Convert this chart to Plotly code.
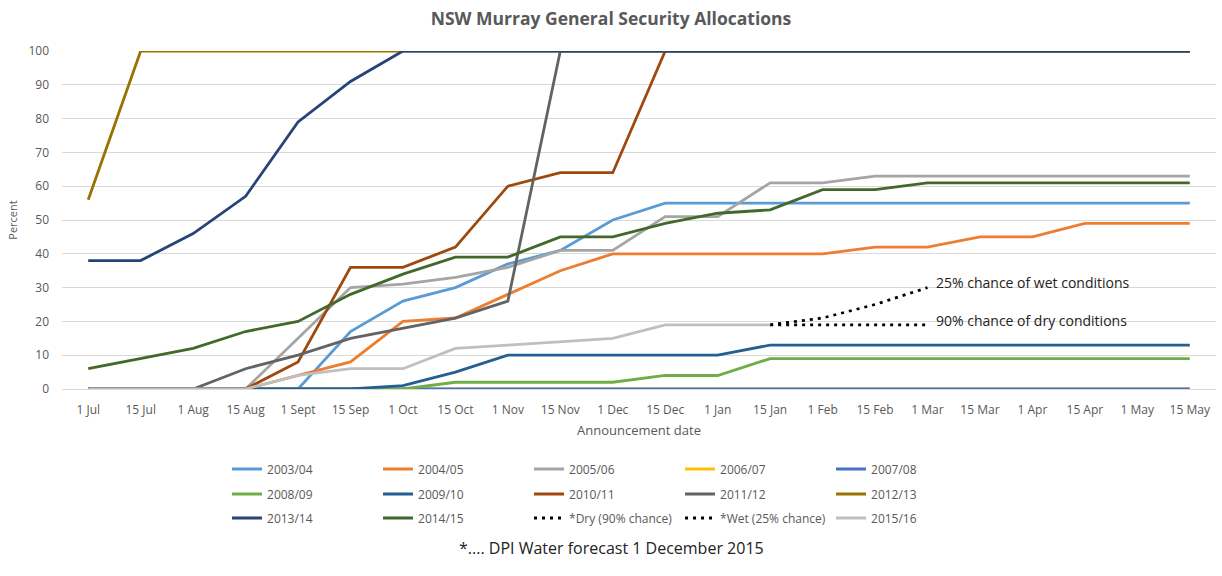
import plotly.graph_objects as go

dates = ["1 Jul", "15 Jul", "1 Aug", "15 Aug", "1 Sept", "15 Sep", "1 Oct", "15 Oct",
         "1 Nov", "15 Nov", "1 Dec", "15 Dec", "1 Jan", "15 Jan", "1 Feb", "15 Feb",
         "1 Mar", "15 Mar", "1 Apr", "15 Apr", "1 May", "15 May"]

y2003 = [0, 0, 0, 0, 0, 17, 26, 30, 37, 41, 50, 55, 55, 55, 55, 55, 55, 55, 55, 55, 55, 55]
y2004 = [0, 0, 0, 0, 4, 8, 20, 21, 28, 35, 40, 40, 40, 40, 40, 42, 42, 45, 45, 49, 49, 49]
y2005 = [0, 0, 0, 0, 15, 30, 31, 33, 36, 41, 41, 51, 51, 61, 61, 63, 63, 63, 63, 63, 63, 63]
y2006 = [0] * 22
y2007 = [0] * 22
y2008 = [0, 0, 0, 0, 0, 0, 0, 2, 2, 2, 2, 4, 4, 9, 9, 9, 9, 9, 9, 9, 9, 9]
y2009 = [0, 0, 0, 0, 0, 0, 1, 5, 10, 10, 10, 10, 10, 13, 13, 13, 13, 13, 13, 13, 13, 13]
y2010 = [0, 0, 0, 0, 8, 36, 36, 42, 60, 64, 64, 100, 100, 100, 100, 100, 100, 100, 100, 100, 100, 100]
y2011 = [0, 0, 0, 6, 10, 15, 18, 21, 26, 100, 100, 100, 100, 100, 100, 100, 100, 100, 100, 100, 100, 100]
y2012 = [56, 100, 100, 100, 100, 100, 100, 100, 100, 100, 100, 100, 100, 100, 100, 100, 100, 100, 100, 100, 100, 100]
y2013 = [38, 38, 46, 57, 79, 91, 100, 100, 100, 100, 100, 100, 100, 100, 100, 100, 100, 100, 100, 100, 100, 100]
y2014 = [6, 9, 12, 17, 20, 28, 34, 39, 39, 45, 45, 49, 52, 53, 59, 59, 61, 61, 61, 61, 61, 61]
dry_dates = ["15 Jan", "1 Feb", "15 Feb", "1 Mar"]
y_dry = [19, 19, 19, 19]
wet_dates = ["15 Jan", "1 Feb", "15 Feb", "1 Mar"]
y_wet = [19, 21, 25, 30]
dates_2015 = dates[:14]
y2015 = [0, 0, 0, 0, 4, 6, 6, 12, 13, 14, 15, 19, 19, 19]

series = [
    ("2003/04", dates, y2003, "#5B9BD5", None, "legend"),
    ("2004/05", dates, y2004, "#ED7D31", None, "legend"),
    ("2005/06", dates, y2005, "#A5A5A5", None, "legend"),
    ("2006/07", dates, y2006, "#FFC000", None, "legend"),
    ("2007/08", dates, y2007, "#4472C4", None, "legend"),
    ("2008/09", dates, y2008, "#70AD47", None, "legend2"),
    ("2009/10", dates, y2009, "#255E91", None, "legend2"),
    ("2010/11", dates, y2010, "#9E480E", None, "legend2"),
    ("2011/12", dates, y2011, "#636363", None, "legend2"),
    ("2012/13", dates, y2012, "#997300", None, "legend2"),
    ("2013/14", dates, y2013, "#264478", None, "legend3"),
    ("2014/15", dates, y2014, "#43682B", None, "legend3"),
    ("*Dry (90% chance)", dry_dates, y_dry, "#000000", "3px,5px", "legend3"),
    ("*Wet (25% chance)", wet_dates, y_wet, "#000000", "3px,5px", "legend3"),
    ("2015/16", dates_2015, y2015, "#BFBFBF", None, "legend3"),
]

fig = go.Figure()
for name, xs, ys, col, dash, lg in series:
    fig.add_trace(go.Scatter(
        x=xs, y=ys, name=name, mode="lines", legend=lg,
        line=dict(color=col, width=2.8, dash=dash if dash else "solid"),
    ))

txt = "#595959"
font = "Open Sans"
leg_common = dict(orientation="h", entrywidth=106, entrywidthmode="pixels",
                  xanchor="left", yanchor="middle", x=0.143,
                  font=dict(family=font, size=12, color=txt),
                  bgcolor="rgba(0,0,0,0)", itemwidth=30, tracegroupgap=0)

fig.update_layout(
    width=1222, height=576,
    margin=dict(l=62, r=6, t=51, b=187, autoexpand=False),
    paper_bgcolor="white", plot_bgcolor="white",
    title=dict(text="<b>NSW Murray General Security Allocations</b>",
               x=0.5, xref="container", xanchor="center",
               y=1 - 19 / 576, yref="container", yanchor="middle",
               font=dict(family=font, size=17.5, color=txt)),
    xaxis=dict(type="category", categoryorder="array", categoryarray=dates,
               range=[-0.5, 21.5], showgrid=False, showline=True, linecolor="#D9D9D9",
               ticks="", ticklabelstandoff=10,
               tickfont=dict(family=font, size=12, color=txt),
               title=dict(text="Announcement date", standoff=8,
                          font=dict(family=font, size=13, color=txt))),
    yaxis=dict(range=[0, 100], dtick=10, showgrid=True, gridcolor="#D9D9D9",
               zeroline=False, showline=False, ticks="", ticklabelstandoff=12,
               tickfont=dict(family=font, size=12, color=txt),
               title=dict(text="Percent", standoff=8,
                          font=dict(family=font, size=11, color=txt))),
    legend=dict(y=-(469 - 389) / 338, **leg_common),
    legend2=dict(y=-(494 - 389) / 338, **leg_common),
    legend3=dict(y=-(518 - 389) / 338, **leg_common),
    showlegend=True,
)

fig.add_annotation(x=16.13, y=31.5, xref="x", yref="y", text="25% chance of wet conditions",
                   showarrow=False, xanchor="left", yanchor="middle",
                   font=dict(family=font, size=14, color="#222222"))
fig.add_annotation(x=16.13, y=20.3, xref="x", yref="y", text="90% chance of dry conditions",
                   showarrow=False, xanchor="left", yanchor="middle",
                   font=dict(family=font, size=14, color="#222222"))
fig.add_annotation(x=(611 - 62) / 1154, y=-(548 - 389) / 338, xref="paper", yref="paper",
                   text="*.... DPI Water forecast 1 December 2015",
                   showarrow=False, xanchor="center", yanchor="middle",
                   font=dict(family=font, size=16, color="#222222"))

fig.write_html("out.html", config={"displayModeBar": False},
               post_script="document.body.style.margin='0';document.body.style.overflow='hidden';")
